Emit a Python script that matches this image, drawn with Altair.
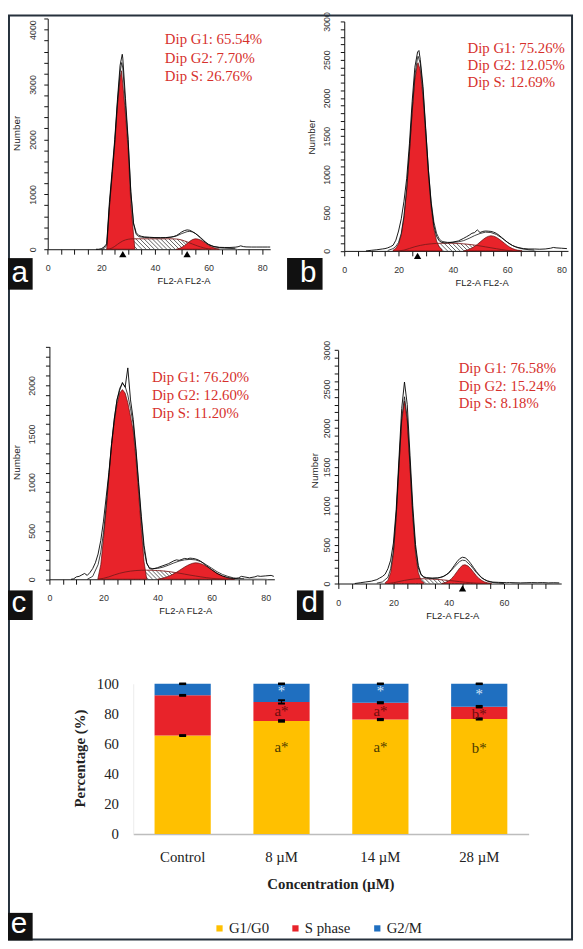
import altair as alt
import numpy as np
import pandas as pd

W, H = 575, 941

# ======================= DATA =======================
# ---------- panel a ----------
a_g1_x = [22, 23, 24, 25, 26, 27, 27.5, 28, 29, 30, 31, 32, 32.5]
a_g1_y = [0, 750, 1330, 1890, 2610, 3120, 3250, 3010, 2460, 1800, 830, 275, 0]
a_g2_x = [48, 49, 50, 51, 52, 53, 54, 55, 56, 57, 58, 59, 60, 61, 62, 63, 64]
a_g2_y = [0, 12, 35, 65, 105, 145, 175, 190, 186, 168, 140, 106, 74, 46, 25, 10, 0]
a_s_x = [22, 23, 24, 25, 26, 27, 28, 29, 30, 31, 32, 34, 36, 38, 40, 42, 44, 46, 48,
         49, 50, 51, 52, 53, 54, 55, 56, 57, 58, 59, 60, 61]
a_s_y = [0, 5, 22, 52, 88, 122, 150, 170, 182, 188, 190, 190, 190, 190, 190, 190, 190, 190, 186,
         180, 168, 152, 134, 114, 95, 76, 58, 42, 28, 16, 7, 0]
a_data_x = [18, 19, 20, 21, 22, 23, 24, 25, 26, 27, 27.8, 28, 29, 30, 31, 32, 33, 34, 35, 36,
            38, 40, 42, 44, 46, 47, 48, 49, 50, 51, 52, 53, 54, 55, 56, 57, 58, 59, 60, 61,
            62, 64, 66, 68, 70, 71, 72, 73, 74, 76, 78, 80, 82, 83]
a_data_y = [0, 0, 10, 40, 100, 850, 1420, 2000, 2720, 3350, 3550, 3480, 2750, 2000, 1050, 480, 300, 250, 235, 225,
            218, 212, 210, 212, 222, 232, 250, 280, 315, 340, 352, 345, 320, 290, 250, 205, 160, 120, 85, 62,
            48, 35, 32, 32, 38, 45, 62, 48, 42, 40, 40, 40, 40, 40]
a_fit_x = [20, 21, 22, 23, 24, 25, 26, 27, 27.6, 28, 29, 30, 31, 32, 33, 34, 36, 38, 40, 42,
           44, 46, 48, 50, 52, 53, 54, 55, 56, 57, 58, 59, 60, 62, 64, 66, 68, 70]
a_fit_y = [0, 10, 70, 780, 1360, 1950, 2660, 3220, 3400, 3300, 2620, 1950, 1030, 460, 270, 228, 214, 210, 208, 208,
           210, 218, 240, 285, 320, 325, 315, 290, 255, 215, 170, 125, 90, 50, 30, 22, 15, 10]
a_debris_x = [57, 58, 60, 62, 64, 66, 68, 70, 71]
a_debris_y = [0, 20, 34, 36, 36, 35, 33, 30, 0]
a_markers = [28, 52]
a_text = ["Dip G1: 65.54%", "Dip G2: 7.70%", "Dip S: 26.76%"]

# ---------- panel b ----------
b_g1_x = [18, 19, 20, 21, 22, 23, 24, 25, 26, 27, 27.2, 28, 29, 30, 31, 32, 33, 34, 35, 36]
b_g1_y = [10, 35, 90, 210, 440, 800, 1280, 1800, 2240, 2450, 2460, 2360, 2000, 1490, 980, 565, 290, 130, 50, 15]
b_g2_x = [44, 45, 46, 47, 48, 49, 50, 51, 52, 53, 54, 55, 56, 57, 58, 59, 60, 61, 62, 63, 64, 65, 65.5]
b_g2_y = [0, 10, 22, 38, 60, 85, 115, 145, 172, 190, 198, 193, 178, 155, 128, 100, 72, 48, 30, 17, 8, 2, 0]
b_s_x = [20, 22, 24, 26, 28, 30, 32, 34, 36, 38, 40, 42, 44, 46, 48, 50, 52, 54, 56, 58, 60, 62]
b_s_y = [0, 10, 32, 55, 72, 85, 93, 98, 100, 100, 100, 97, 92, 85, 76, 65, 53, 41, 29, 17, 7, 0]
b_data_x = [8, 10, 12, 14, 15, 16, 17, 18, 19, 20, 21, 22, 23, 24, 25, 26, 27, 27.5, 28, 29,
            30, 31, 32, 33, 34, 35, 36, 37, 38, 40, 42, 44, 45, 46, 47, 48, 49, 50, 51, 52,
            53, 54, 55, 56, 57, 58, 59, 60, 61, 62, 63, 64, 66, 68, 70, 72, 74, 76, 77, 78,
            80, 82]
b_data_y = [0, 8, 15, 25, 30, 40, 55, 75, 140, 260, 420, 650, 950, 1400, 1950, 2400, 2600, 2620, 2500, 2150,
            1600, 1050, 620, 330, 190, 130, 110, 105, 105, 115, 130, 165, 185, 205, 230, 240, 275, 240, 255, 260,
            258, 255, 245, 230, 205, 175, 145, 115, 90, 70, 55, 45, 30, 25, 25, 22, 25, 35, 45, 40,
            35, 30]
b_fit_x = [16, 18, 19, 20, 21, 22, 23, 24, 25, 26, 27, 27.2, 28, 29, 30, 31, 32, 33, 34, 35,
           36, 38, 40, 42, 44, 46, 48, 50, 52, 54, 56, 58, 60, 62, 64, 66, 68, 70]
b_fit_y = [5, 30, 60, 110, 230, 460, 820, 1300, 1830, 2290, 2530, 2545, 2450, 2090, 1580, 1060, 640, 380, 230, 155,
           125, 112, 112, 118, 135, 165, 200, 228, 245, 240, 215, 170, 115, 70, 40, 25, 15, 10]
b_debris_x = [63, 64, 66, 68, 70, 71]
b_debris_y = [0, 14, 18, 18, 14, 0]
b_markers = [27]
b_text = ["Dip G1: 75.26%", "Dip G2: 12.05%", "Dip S: 12.69%"]

# ---------- panel c ----------
c_g1_x = [17.9, 18, 19, 20, 21, 22, 23, 24, 25, 26, 27, 28, 29, 30, 31, 32, 33, 34, 35, 36]
c_g1_y = [0, 15, 150, 420, 720, 1060, 1380, 1620, 1800, 1920, 1956, 1920, 1820, 1680, 1530, 1240, 880, 520, 180, 0]
c_g2_x = [40, 41, 42, 43, 44, 45, 46, 47, 48, 49, 50, 51, 52, 53, 54, 55, 56, 57, 58, 59,
          60, 61, 62, 63, 64, 65, 66, 67, 68, 68.5]
c_g2_y = [0, 6, 12, 20, 30, 42, 56, 72, 90, 108, 126, 142, 155, 165, 170, 168, 161, 150, 135, 117,
          98, 80, 62, 46, 33, 22, 13, 7, 3, 0]
c_s_x = [18, 20, 22, 24, 26, 28, 30, 32, 34, 36, 38, 40, 42, 44, 46, 48, 50, 52, 54, 56, 58, 60, 62, 64, 66]
c_s_y = [0, 10, 25, 45, 62, 75, 84, 90, 93, 94, 93, 90, 86, 80, 72, 63, 53, 43, 34, 25, 17, 10, 5, 2, 0]
c_data_x = [8, 9, 10, 11, 12, 13, 14, 15, 16, 17, 18, 19, 20, 21, 22, 23, 24, 25, 26, 27,
            28, 29, 30, 31, 32, 33, 34, 35, 36, 37, 38, 40, 42, 44, 46, 47, 48, 49, 50, 51,
            52, 53, 54, 55, 56, 57, 58, 59, 60, 62, 64, 66, 68, 69, 70, 71, 72, 74, 76, 77,
            78, 80, 82, 83]
c_data_y = [0, 5, 25, 30, 45, 60, 40, 70, 110, 170, 260, 400, 600, 850, 1100, 1400, 1650, 1850, 1950, 2030,
            1980, 2180, 1850, 1650, 1350, 1000, 650, 350, 170, 110, 105, 120, 140, 160, 190, 200, 195, 205, 215, 210,
            218, 215, 210, 200, 185, 165, 140, 120, 100, 60, 35, 18, 8, 8, 15, 30, 25, 15, 25, 35,
            30, 35, 40, 30]
c_fit_x = [14, 16, 18, 19, 20, 21, 22, 23, 24, 25, 26, 27, 28, 29, 30, 31, 32, 33, 34, 35,
           36, 37, 38, 40, 42, 44, 46, 48, 50, 52, 54, 56, 58, 60, 62, 64, 66, 68, 70, 72]
c_fit_y = [0, 30, 150, 280, 480, 760, 1080, 1400, 1660, 1850, 1970, 2020, 1990, 1900, 1760, 1600, 1320, 960, 610, 300,
           160, 120, 110, 112, 125, 145, 168, 188, 200, 205, 200, 182, 150, 115, 78, 50, 30, 15, 8, 5]
c_debris_x = [68, 69, 72, 76, 80, 81]
c_debris_y = [0, 10, 12, 12, 10, 0]
c_markers = []
c_text = ["Dip G1: 76.20%", "Dip G2: 12.60%", "Dip S: 11.20%"]

# ---------- panel d ----------
d_g1_x = [17, 18, 19, 20, 21, 22, 23, 24, 25, 26, 27, 28, 29, 30, 31]
d_g1_y = [10, 40, 140, 380, 850, 1490, 2090, 2345, 2090, 1490, 850, 380, 140, 40, 10]
d_g2_x = [37.5, 38, 39, 40, 41, 42, 43, 44, 45, 45.8, 46, 47, 48, 49, 50, 51, 52, 53, 54, 55, 55.5]
d_g2_y = [0, 6, 16, 33, 62, 103, 152, 200, 234, 241, 240, 225, 190, 145, 100, 64, 38, 20, 10, 4, 0]
d_s_x = [18, 20, 22, 24, 26, 28, 30, 32, 34, 36, 38, 40, 42, 44, 46, 48, 50, 52, 54]
d_s_y = [0, 10, 25, 40, 52, 60, 62, 60, 57, 52, 46, 39, 32, 24, 16, 10, 5, 2, 0]
d_data_x = [6, 8, 10, 12, 14, 15, 16, 17, 18, 19, 20, 21, 22, 23, 24, 25, 26, 27, 28, 29,
            30, 31, 32, 34, 36, 37, 38, 39, 40, 41, 42, 43, 44, 45, 46, 47, 48, 49, 50, 51,
            52, 53, 54, 55, 56, 58, 60, 61, 62, 64, 66, 68, 70, 72, 74, 76, 78, 80]
d_data_y = [0, 10, 20, 30, 50, 70, 90, 120, 190, 300, 520, 950, 1600, 2250, 2590, 2300, 1650, 1000, 500, 230,
            120, 85, 75, 70, 72, 78, 90, 110, 140, 180, 230, 280, 320, 338, 330, 300, 255, 205, 155, 110,
            75, 50, 35, 25, 18, 15, 12, 10, 12, 10, 8, 10, 12, 10, 12, 8, 10, 8]
d_fit_x = [14, 16, 18, 19, 20, 21, 22, 23, 24, 25, 26, 27, 28, 29, 30, 31, 32, 34, 36, 38,
           40, 42, 44, 45, 46, 48, 50, 52, 54, 56, 58, 60]
d_fit_y = [5, 20, 80, 190, 420, 880, 1520, 2120, 2400, 2130, 1530, 900, 440, 200, 110, 80, 70, 65, 70, 90,
           130, 210, 285, 300, 295, 230, 140, 70, 30, 12, 5, 0]
d_debris_x = [55, 56, 58, 60, 62, 63]
d_debris_y = [0, 12, 15, 12, 10, 0]
d_markers = [45]
d_text = ["Dip G1: 76.58%", "Dip G2: 15.24%", "Dip S: 8.18%"]

# ---------- panel e (stacked bars) ----------
concs = ["Control", "8 µM", "14 µM", "28 µM"]
phases = ["G1/G0", "S phase", "G2/M"]
g1_pct = [65.54, 75.26, 76.20, 76.58]
s_pct = [26.76, 12.69, 11.20, 8.18]
g2_pct = [7.70, 12.05, 12.60, 15.24]
g1_err = [0.3, 0.5, 0.4, 0.4]
s_err = [0.3, 1.1, 0.4, 0.5]
g2_err = [0.2, 0.2, 0.2, 0.2]
note_conc = ["8 µM", "8 µM", "8 µM", "14 µM", "14 µM", "14 µM", "28 µM", "28 µM", "28 µM"]
note_phase = ["G2/M", "S phase", "G1/G0", "G2/M", "S phase", "G1/G0", "G2/M", "S phase", "G1/G0"]
note_y = [95, 82, 58, 95.2, 82, 58, 93, 80, 57.3]
note_text = ["*", "a*", "a*", "*", "a*", "a*", "*", "b*", "b*"]

# ======================= STYLE / LAYOUT =======================
RED = "#e8232a"
RED_EDGE = "#5c0b0b"
S_LINE = "#7d1a1a"
TXT_RED = "#d6302c"
phase_colors = ["#ffc000", "#e8232a", "#1f6fc0"]
note_colors = {"G1/G0": "#4d3b00", "S phase": "#6e0d0d", "G2/M": "#d5e6f7"}
SANS = "Liberation Sans"
SERIF = "Liberation Serif"

LAYOUT = {
    "a": dict(xdom=[0, 83], xr=[40.3, 265.9], ydom=[0, 4200], yr=[238, 4.1],
              ystep=200, ylab=1000, xlast=80, ylabpad=11, ytitle=(-31.7, 120),
              xtitle=(178, 32), txt=(43.7, [3820, 3490, 3160])),
    "b": dict(xdom=[0, 82.4], xr=[341, 567.9], ydom=[0, 3000], yr=[239.7, 7],
              ystep=100, ylab=500, xlast=80, ylabpad=14, ytitle=(-33.3, 123.7),
              xtitle=(480.3, 32.3), txt=(45.4, [2656, 2429, 2204])),
    "c": dict(xdom=[0, 83.2], xr=[42, 270.1], ydom=[0, 2400], yr=[572.7, 336.7],
              ystep=100, ylab=500, xlast=80, ylabpad=14, ytitle=(-33.3, 453.7),
              xtitle=(179.8, 32), txt=(37.9, [2082, 1896, 1713])),
    "d": dict(xdom=[0, 80.7], xr=[334.8, 561.0], ydom=[0, 3000], yr=[577, 340.3],
              ystep=100, ylab=500, xlast=75, ylabpad=8, ytitle=(-24, 462),
              xtitle=(450.5, 32.4), txt=(43.6, [2767, 2544, 2316])),
}


def df2(xs, ys):
    n = min(len(xs), len(ys))
    return pd.DataFrame({"x": list(xs)[:n], "y": list(ys)[:n]})


def hatch_df(sx, sy, g, spacing_px=4.2):
    ppu = (g["xr"][1] - g["xr"][0]) / (g["xdom"][1] - g["xdom"][0])
    ppc = (g["yr"][0] - g["yr"][1]) / (g["ydom"][1] - g["ydom"][0])
    starts = np.arange(sx[0], sx[-1], spacing_px / ppu)
    tops = np.interp(starts, sx, sy)
    rows = []
    for x0, t in zip(starts, tops):
        if t <= 0:
            continue
        rows.append({"x": float(x0), "y": float(t),
                     "x2": float(x0 + t * ppc / ppu), "y2": 0.0})
    return pd.DataFrame(rows)


def make_axes(key):
    g = LAYOUT[key]
    xa = alt.Axis(
        orient="bottom", offset=g["yr"][0] - H,
        values=list(range(0, g["xlast"] + 1, 5)),
        labelExpr="datum.value % 20 === 0 ? datum.label : ''", format="d",
        grid=False, tickSize=5, tickColor="#111", tickWidth=1,
        domainColor="#111", domainWidth=1,
        labelFont=SANS, labelFontSize=9, labelColor="#333", labelPadding=14,
        labelBaseline="middle", labelAngle=0, labelFlush=False, labelOverlap=False,
        title="FL2-A FL2-A", titleFont=SANS, titleFontSize=9.5, titleFontWeight="normal",
        titleColor="#222", titleX=g["xtitle"][0], titleY=g["xtitle"][1],
        titleBaseline="middle", titleAlign="center")
    ya = alt.Axis(
        orient="left", offset=-g["xr"][0],
        values=list(range(0, g["ydom"][1] + 1, g["ystep"])),
        labelExpr=f"datum.value % {g['ylab']} === 0 ? datum.label : ''", format="d",
        grid=False, tickSize=4, tickColor="#111", tickWidth=1,
        domainColor="#111", domainWidth=1,
        labelFont=SANS, labelFontSize=9, labelColor="#333", labelPadding=g["ylabpad"],
        labelAngle=270, labelAlign="center", labelBaseline="middle",
        labelFlush=False, labelOverlap=False,
        title="Number", titleFont=SANS, titleFontSize=10, titleFontWeight="normal",
        titleColor="#222", titleAngle=270, titleX=g["ytitle"][0], titleY=g["ytitle"][1],
        titleBaseline="middle", titleAlign="center")
    return xa, ya


def histo_panel(key, g1x, g1y, g2x, g2y, sx, sy, dx, dy, fx, fy, debx, deby, markers, texts):
    g = LAYOUT[key]
    xsc = alt.Scale(domain=g["xdom"], range=g["xr"], nice=False, zero=False)
    ysc = alt.Scale(domain=g["ydom"], range=g["yr"], nice=False, zero=False)
    xaxis, yaxis = make_axes(key)

    def X():
        return alt.X("x:Q", scale=xsc, axis=xaxis)

    def Y():
        return alt.Y("y:Q", scale=ysc, axis=yaxis)

    layers = []
    layers.append(alt.Chart(df2(debx, deby)).mark_area(color="#c8c8c8").encode(
        x=X(), y=Y(), y2=alt.datum(0)))
    hd = hatch_df(sx, sy, g)
    layers.append(alt.Chart(hd).mark_rule(color="#1a1a1a", strokeWidth=0.7).encode(
        x=X(), x2=alt.X2("x2:Q"), y=Y(), y2=alt.Y2("y2:Q")))
    layers.append(alt.Chart(df2(g1x, g1y)).mark_area(
        fill=RED, stroke=RED_EDGE, strokeWidth=0.7).encode(x=X(), y=Y(), y2=alt.datum(0)))
    layers.append(alt.Chart(df2(g2x, g2y)).mark_area(
        fill=RED, stroke=RED_EDGE, strokeWidth=0.7).encode(x=X(), y=Y(), y2=alt.datum(0)))
    layers.append(alt.Chart(df2(sx, sy)).mark_line(color=S_LINE, strokeWidth=0.9).encode(x=X(), y=Y()))
    layers.append(alt.Chart(df2(fx, fy)).mark_line(color="#111", strokeWidth=0.8).encode(x=X(), y=Y()))
    layers.append(alt.Chart(df2(dx, dy)).mark_line(color="#000", strokeWidth=0.9).encode(x=X(), y=Y()))
    if markers:
        mdf = pd.DataFrame({"x": markers, "y": [0] * len(markers)})
        layers.append(alt.Chart(mdf).mark_point(
            shape="triangle-up", filled=True, color="black", size=55, opacity=1, yOffset=5
        ).encode(x=X(), y=Y()))
    tdf = pd.DataFrame({"x": [g["txt"][0]] * len(texts), "y": g["txt"][1][:len(texts)], "t": texts})
    layers.append(alt.Chart(tdf).mark_text(
        align="left", baseline="middle", font=SERIF, fontSize=15, color=TXT_RED
    ).encode(x=X(), y=Y(), text="t:N"))
    return alt.layer(*layers)


pa = histo_panel("a", a_g1_x, a_g1_y, a_g2_x, a_g2_y, a_s_x, a_s_y, a_data_x, a_data_y,
                 a_fit_x, a_fit_y, a_debris_x, a_debris_y, a_markers, a_text)
pb = histo_panel("b", b_g1_x, b_g1_y, b_g2_x, b_g2_y, b_s_x, b_s_y, b_data_x, b_data_y,
                 b_fit_x, b_fit_y, b_debris_x, b_debris_y, b_markers, b_text)
pc = histo_panel("c", c_g1_x, c_g1_y, c_g2_x, c_g2_y, c_s_x, c_s_y, c_data_x, c_data_y,
                 c_fit_x, c_fit_y, c_debris_x, c_debris_y, c_markers, c_text)
pd_ = histo_panel("d", d_g1_x, d_g1_y, d_g2_x, d_g2_y, d_s_x, d_s_y, d_data_x, d_data_y,
                  d_fit_x, d_fit_y, d_debris_x, d_debris_y, d_markers, d_text)

# ---------- panel e ----------
rows = []
for i, c in enumerate(concs):
    for j, (p, v) in enumerate(zip(phases, [g1_pct[i], s_pct[i], g2_pct[i]])):
        rows.append({"conc": c, "phase": p, "value": v, "ord": j})
bars_df = pd.DataFrame(rows)

err_rows = []
for i, c in enumerate(concs):
    tops = [g1_pct[i], g1_pct[i] + s_pct[i], g1_pct[i] + s_pct[i] + g2_pct[i]]
    errs = [g1_err[i], s_err[i], g2_err[i]]
    for t, e in zip(tops, errs):
        err_rows.append({"conc": c, "lo": t - e, "hi": t + e})
err_df = pd.DataFrame(err_rows)

note_df = pd.DataFrame({"conc": note_conc, "phase": note_phase, "y": note_y, "t": note_text})

ex = alt.Scale(domain=concs, range=[127, 528], paddingInner=0.4314, paddingOuter=0.2157)
ey = alt.Scale(domain=[0, 100], range=[831, 678.7], nice=False, zero=False)

ex_axis = alt.Axis(orient="bottom", offset=831 - H, ticks=False, tickSize=0,
                   domainColor="#bdbdbd", domainWidth=1.5, labelAngle=0,
                   labelFont=SERIF, labelFontSize=15, labelColor="#222",
                   labelPadding=23, labelBaseline="middle",
                   title="Concentration (µM)", titleFont=SERIF, titleFontSize=15,
                   titleFontWeight="bold", titleColor="#222", titleX=327, titleY=50,
                   titleBaseline="middle", titleAlign="center")
ey_axis = alt.Axis(orient="left", offset=-127, values=[0, 20, 40, 60, 80, 100],
                   ticks=False, tickSize=0, grid=False, domainColor="#ececec", domainWidth=1,
                   labelFont=SERIF, labelFontSize=15, labelColor="#222", labelPadding=15,
                   labelBaseline="middle", labelFlush=False,
                   title="Percentage (%)", titleFont=SERIF, titleFontSize=15,
                   titleFontWeight="bold", titleColor="#222", titleAngle=270,
                   titleX=-54, titleY=754, titleBaseline="middle", titleAlign="center")

bars = alt.Chart(bars_df).mark_bar().encode(
    x=alt.X("conc:N", sort=concs, scale=ex, axis=ex_axis),
    y=alt.Y("value:Q", stack="zero", scale=ey, axis=ey_axis),
    color=alt.Color("phase:N", scale=alt.Scale(domain=phases, range=phase_colors), title=None,
                    legend=alt.Legend(orient="none", legendX=207, legendY=919,
                                      direction="horizontal", symbolType="square",
                                      symbolSize=40, symbolStrokeWidth=0,
                                      labelFont=SERIF, labelFontSize=15, labelColor="#222",
                                      labelOffset=2, columnPadding=19)),
    order=alt.Order("ord:Q", sort="ascending"),
)
err_rule = alt.Chart(err_df).mark_rule(color="black", strokeWidth=1.2).encode(
    x=alt.X("conc:N", sort=concs), y="lo:Q", y2="hi:Q")
cap_lo = alt.Chart(err_df).mark_tick(color="black", thickness=2, size=7, opacity=1).encode(
    x=alt.X("conc:N", sort=concs), y="lo:Q")
cap_hi = alt.Chart(err_df).mark_tick(color="black", thickness=2, size=7, opacity=1).encode(
    x=alt.X("conc:N", sort=concs), y="hi:Q")
note_layers = []
for ph in phases:
    sub = note_df[note_df["phase"] == ph]
    note_layers.append(alt.Chart(sub).mark_text(
        font=SERIF, fontSize=15, color=note_colors[ph], align="center", baseline="middle"
    ).encode(x=alt.X("conc:N", sort=concs), y="y:Q", text="t:N"))
pe = alt.layer(bars, err_rule, cap_lo, cap_hi, *note_layers)

# ---------- decorations: frame and panel letters ----------
one = pd.DataFrame({"k": [0]})
frame = alt.Chart(one).mark_rect(fill="transparent", stroke="#26313c", strokeWidth=2).encode(
    x=alt.value(1), x2=alt.value(572), y=alt.value(1), y2=alt.value(938))

letter_boxes = [
    ("a", 0, 25, 247, 279, 12, 271),
    ("b", 283, 319, 247, 279, 304.5, 271),
    ("c", 0, 25, 584, 614, 11, 606),
    ("d", 293, 320, 584, 614, 306, 606),
    ("e", 0, 25, 911, 939, 11, 931),
]
deco = [frame]
for lt, x0, x1, y0, y1, tx, ty in letter_boxes:
    deco.append(alt.Chart(one).mark_rect(color="#111").encode(
        x=alt.value(x0), x2=alt.value(x1), y=alt.value(y0), y2=alt.value(y1)))
    deco.append(alt.Chart(one).mark_text(
        font=SANS, fontSize=30, color="white", align="center", baseline="alphabetic"
    ).encode(x=alt.value(tx), y=alt.value(ty), text=alt.value(lt)))

chart = alt.layer(pa, pb, pc, pd_, pe, *deco).resolve_scale(
    x="independent", y="independent"
).resolve_axis(
    x="independent", y="independent"
).properties(
    width=W, height=H, padding=0, autosize=alt.AutoSizeParams(type="none")
).configure_view(stroke="transparent")

chart.save("out.html", embed_options={"renderer": "svg", "actions": False})
